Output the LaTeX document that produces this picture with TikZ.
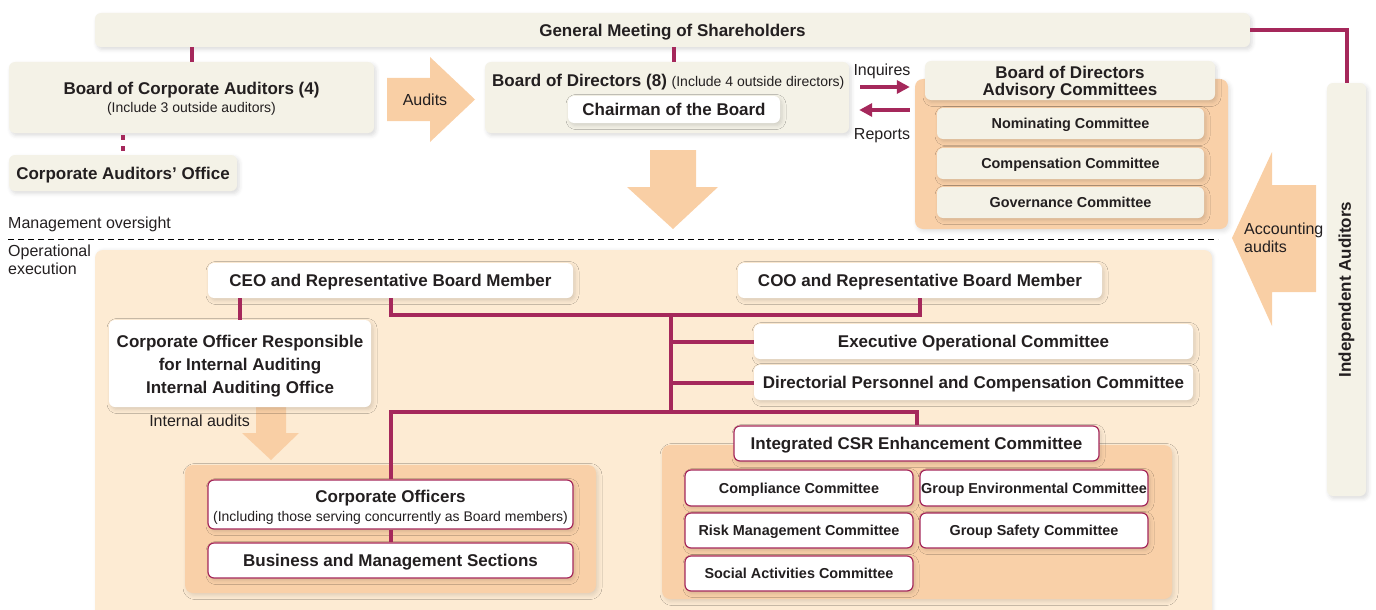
\documentclass[tikz,border=0pt]{standalone}
\usepackage{fontspec}
\setmainfont{Liberation Sans}
\usetikzlibrary{arrows.meta,shadows.blur}

\definecolor{cream}{HTML}{F4F2E7}
\definecolor{peach}{HTML}{F9CFA5}
\definecolor{opbg}{HTML}{FDEBD3}
\definecolor{grp}{HTML}{F9D0A8}
\definecolor{wine}{HTML}{A5285B}
\definecolor{ink}{HTML}{231F20}

\begin{document}
\begin{tikzpicture}[x=1pt,y=-1pt]

  \tikzstyle{box}=[shape=rectangle, rounded corners=6pt, inner sep=0pt, align=center, text=ink, text depth=0pt, blur shadow={shadow xshift=2pt, shadow yshift=-2.5pt, shadow blur radius=4pt, shadow opacity=14}, font=\fontsize{17}{19}\selectfont\bfseries]

  \tikzstyle{creambox}=[box, fill=cream]

  \tikzstyle{whitebox}=[box, fill=white]

  \tikzstyle{redbox}=[box, fill=white, draw=wine, line width=1.2pt]

  \tikzstyle{group}=[shape=rectangle, rounded corners=8pt, fill=grp, blur shadow={shadow xshift=2pt, shadow yshift=-2.5pt, shadow blur radius=4pt, shadow opacity=12}]

  \tikzstyle{small}=[font=\fontsize{14.4}{17}\selectfont\bfseries]

  \tikzstyle{plain}=[inner sep=0pt, text=ink, text depth=0pt, font=\fontsize{16}{18}\selectfont]

  \tikzstyle{link}=[draw=wine, line width=4pt]

  \tikzstyle{flow}=[draw=wine, line width=4pt, -{Triangle[length=13pt,width=13pt]}]

  \tikzstyle{blockarrow}=[fill=peach]

\useasboundingbox (0,0) rectangle (1376,610);

%% background of operational execution
\fill[opbg, rounded corners=8pt, blur shadow={shadow xshift=1.5pt, shadow yshift=0pt, shadow blur radius=3pt, shadow opacity=10}] (95,250) rectangle (1212,640);

%% block arrows
\fill[blockarrow] (387,78) -- (430,78) -- (430,57) -- (475,99.5) -- (430,142) -- (430,121) -- (387,121) -- cycle;
\fill[blockarrow] (650,150) -- (696,150) -- (696,187) -- (718,187) -- (673,229) -- (627,187) -- (650,187) -- cycle;
\fill[blockarrow] (1316,185) -- (1272,185) -- (1272,152) -- (1232,238) -- (1272,326) -- (1272,292) -- (1316,292) -- cycle;
\fill[blockarrow] (256,405) -- (286,405) -- (286,433) -- (299,433) -- (271,460) -- (242,433) -- (256,433) -- cycle;

%% groups
\node (advgrp)[group, minimum width=313, minimum height=150] at (1071.5,154) {};
\node (cogrp)[group, minimum width=411, minimum height=128] at (390.5,529) {};
\node (csrgrp)[group, minimum width=510, minimum height=154] at (917,522) {};

%% nodes or vertices
\node (gm)[creambox, minimum width=1155, minimum height=34] at (672.5,30) {General Meeting of Shareholders};

\node (boca)[creambox, minimum width=365, minimum height=71] at (191.5,97.5) {Board of Corporate Auditors (4)\\[-1pt]{\fontsize{14}{16}\selectfont\mdseries (Include 3 outside auditors)}};

\node (cao)[creambox, minimum width=228, minimum height=36] at (123,173) {Corporate Auditors’ Office};

\node (bod)[creambox, minimum width=364, minimum height=71] at (667,97.5) {};

\node (bodtitle)[plain, anchor=west, font=\fontsize{17}{19}\selectfont\bfseries] at (492,80) {Board of Directors (8) {\fontsize{14}{16}\selectfont\mdseries (Include 4 outside directors)}};

\node (chair)[whitebox, minimum width=212, minimum height=27] at (674,109.5) {Chairman of the Board};

\node (advtitle)[creambox, minimum width=290, minimum height=39, font=\fontsize{17}{17}\selectfont\bfseries] at (1070,80.5) {Board of Directors\\Advisory Committees};

\node (nom)[creambox, small, minimum width=267, minimum height=31] at (1070.5,123.5) {Nominating Committee};
\node (comp)[creambox, small, minimum width=267, minimum height=31] at (1070.5,163.5) {Compensation Committee};
\node (gov)[creambox, small, minimum width=267, minimum height=31] at (1070.5,202.5) {Governance Committee};

\node (ia)[creambox, minimum width=39, minimum height=413] at (1346.5,289.5) {\rotatebox{90}{Independent Auditors}};

\node (ceo)[whitebox, minimum width=365, minimum height=35] at (390.5,280.5) {CEO and Representative Board Member};
\node (coo)[whitebox, minimum width=364, minimum height=35] at (920,280.5) {COO and Representative Board Member};

\node (cori)[whitebox, minimum width=262, minimum height=87, text height=60pt, font=\fontsize{17}{23}\selectfont\bfseries] at (240,363.5) {Corporate Officer Responsible\\for Internal Auditing\\Internal Auditing Office};

\node (exec)[whitebox, minimum width=439, minimum height=35] at (973.5,341.5) {Executive Operational Committee};
\node (dpc)[whitebox, minimum width=439, minimum height=35] at (973.5,382.5) {Directorial Personnel and Compensation Committee};

\node (co)[redbox, minimum width=365, minimum height=49, text height=34pt] at (390.5,504.5) {Corporate Officers\\[0pt]{\fontsize{14}{16}\selectfont\mdseries (Including those serving concurrently as Board members)}};
\node (bms)[redbox, minimum width=365, minimum height=35] at (390.5,560.5) {Business and Management Sections};

\node (csr)[redbox, minimum width=365, minimum height=35] at (916.5,443.5) {Integrated CSR Enhancement Committee};
\node (compl)[redbox, small, minimum width=228, minimum height=36] at (799,488) {Compliance Committee};
\node (genv)[redbox, small, minimum width=228, minimum height=36] at (1034,488) {Group Environmental Committee};
\node (risk)[redbox, small, minimum width=228, minimum height=35] at (799,530.5) {Risk Management Committee};
\node (safe)[redbox, small, minimum width=228, minimum height=35] at (1034,530.5) {Group Safety Committee};
\node (social)[redbox, small, minimum width=228, minimum height=35] at (799,573.5) {Social Activities Committee};

%% plain labels
\node (audits)[plain] at (425,99.5) {Audits};
\node (oversight)[plain, anchor=west] at (8,223) {Management oversight};
\node (operational)[plain, anchor=west, align=left] at (8,260) {Operational\\execution};
\node (accounting)[plain, anchor=west, align=left] at (1244,238) {Accounting\\audits};
\node (internal)[plain, anchor=east] at (250,420.5) {Internal audits};

\coordinate (divL) at (8,239);
\coordinate (divR) at (1218,239);
\coordinate (jt) at (671,314.5);
\coordinate (jb) at (671,411.5);

%% edges or lines
\draw[black, line width=1pt, dash pattern=on 6pt off 4pt] (divL) -- (divR);

\path[link]
	(boca.north) -- (boca.north |- gm.south)
	(chair.north |- bod.north) -- (chair.north |- gm.south)
	(gm.east) -| (ia.north)
	(cori.north) -- (cori.north |- ceo.south)
	(ceo.south) |- (jt) -| (coo.south)
	(jt) -- (jb)
	(jt |- exec.west) -- (exec.west)
	(jt |- dpc.west) -- (dpc.west)
	(co.north) |- (jb) -| (csr.north)
	(co.south) -- (bms.north)
;

\draw[link, dash pattern=on 5pt off 6pt] ([yshift=-2pt]boca.south -| cao.north) -- (cao.north);

\draw[flow, shorten <=11pt, shorten >=5pt] ([yshift=10.5pt]bod.east) -- ([yshift=10.5pt]bod.east -| advgrp.west) node[plain, midway, above=9pt] {Inquires};
\draw[flow, shorten <=5pt, shorten >=10pt] ([yshift=-12.5pt]bod.east -| advgrp.west) -- ([yshift=-12.5pt]bod.east) node[plain, midway, below=16pt] {Reports};

\end{tikzpicture}
\end{document}
